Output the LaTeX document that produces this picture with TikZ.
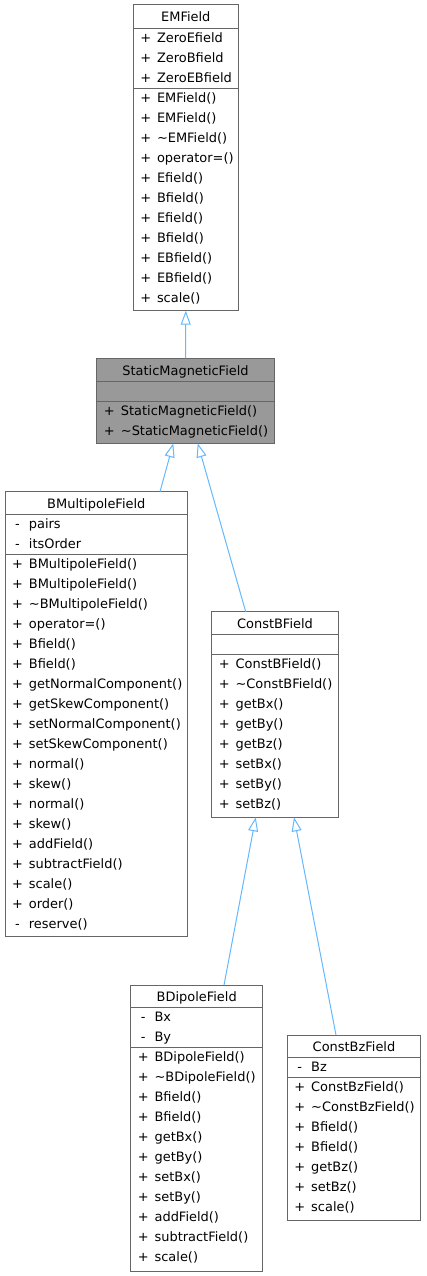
\documentclass[tikz,border=0pt]{standalone}
\usepackage{fontspec}
\setmainfont{DejaVu Sans}
\usetikzlibrary{arrows.meta,calc}
\definecolor{edgeblue}{HTML}{63B8FF}
\definecolor{boxgray}{HTML}{666666}
\definecolor{basefill}{HTML}{999999}
\begin{document}
\begin{tikzpicture}[x=1pt,y=-1pt,
    every node/.style={font=\fontsize{12.95}{16}\selectfont},
    classbox/.style={draw=boxgray,line width=1pt,fill=white,inner sep=0pt,outer sep=0pt,anchor=north west},
    sepline/.style={draw=boxgray,line width=1pt},
    classname/.style={anchor=base,inner sep=0pt},
    sign/.style={anchor=base,inner sep=0pt},
    member/.style={anchor=base west,inner sep=0pt},
    derived/.style={draw=edgeblue,line width=1pt,-{Triangle[open,length=14pt,width=10pt]}}]
  \useasboundingbox (0,0) rectangle (426,1276);
  % EMField
  \node (emfield) [classbox,minimum width=105,minimum height=305.7] at (133.3,5) {};
  \draw[sepline] (133.3,28.3) -- (238.3,28.3) (133.3,88.3) -- (238.3,88.3);
  \node[classname] at (185.8,21.7) {EMField};
  \foreach \s/\m [count=\i from 0] in {+/ZeroEfield,+/ZeroBfield,+/ZeroEBfield}
    {\node[sign] at (145.8,42.3+20*\i) {\s}; \node[member] at (156.8,42.3+20*\i) {\m};}
  \foreach \s/\m [count=\i from 0] in {+/EMField(),+/EMField(),+/\textasciitilde EMField(),+/operator=(),
      +/Efield(),+/Bfield(),+/Efield(),+/Bfield(),+/EBfield(),+/EBfield(),+/scale()}
    {\node[sign] at (145.8,102.3+20*\i) {\s}; \node[member] at (156.8,102.3+20*\i) {\m};}
  % StaticMagneticField
  \node (static) [classbox,fill=basefill,minimum width=177.6,minimum height=85] at (96.7,358.3) {};
  \draw[sepline] (96.7,381) -- (274.3,381) (96.7,401) -- (274.3,401);
  \node[classname] at (185.5,375) {StaticMagneticField};
  \foreach \s/\m [count=\i from 0] in {+/StaticMagneticField(),+/\textasciitilde StaticMagneticField()}
    {\node[sign] at (109.2,415+20*\i) {\s}; \node[member] at (120.7,415+20*\i) {\m};}
  % BMultipoleField
  \node (bmultipole) [classbox,minimum width=182.7,minimum height=445] at (5,491.7) {};
  \draw[sepline] (5,514.3) -- (187.7,514.3) (5,554.3) -- (187.7,554.3);
  \node[classname] at (96.3,508.4) {BMultipoleField};
  \foreach \s/\m [count=\i from 0] in {-/pairs,-/itsOrder}
    {\node[sign] at (17.5,528.3+20*\i) {\s}; \node[member] at (28.7,528.3+20*\i) {\m};}
  \foreach \s/\m [count=\i from 0] in {+/BMultipoleField(),+/BMultipoleField(),+/\textasciitilde BMultipoleField(),
      +/operator=(),+/Bfield(),+/Bfield(),+/getNormalComponent(),+/getSkewComponent(),
      +/setNormalComponent(),+/setSkewComponent(),+/normal(),+/skew(),+/normal(),+/skew(),
      +/addField(),+/subtractField(),+/scale(),+/order(),-/reserve()}
    {\node[sign] at (17.5,568.3+20*\i) {\s}; \node[member] at (28.7,568.3+20*\i) {\m};}
  % ConstBField
  \node (constb) [classbox,minimum width=126.6,minimum height=205.6] at (211.7,611.7) {};
  \draw[sepline] (211.7,634.3) -- (338.3,634.3) (211.7,654.3) -- (338.3,654.3);
  \node[classname] at (275,628.4) {ConstBField};
  \foreach \s/\m [count=\i from 0] in {+/ConstBField(),+/\textasciitilde ConstBField(),+/getBx(),+/getBy(),
      +/getBz(),+/setBx(),+/setBy(),+/setBz()}
    {\node[sign] at (224.2,668.3+20*\i) {\s}; \node[member] at (235.4,668.3+20*\i) {\m};}
  % BDipoleField
  \node (bdipole) [classbox,minimum width=132,minimum height=286] at (130.7,985) {};
  \draw[sepline] (130.7,1007.7) -- (262.7,1007.7) (130.7,1047.7) -- (262.7,1047.7);
  \node[classname] at (196.7,1001.7) {BDipoleField};
  \foreach \s/\m [count=\i from 0] in {-/Bx,-/By}
    {\node[sign] at (143.2,1021.7+20*\i) {\s}; \node[member] at (154.4,1021.7+20*\i) {\m};}
  \foreach \s/\m [count=\i from 0] in {+/BDipoleField(),+/\textasciitilde BDipoleField(),+/Bfield(),+/Bfield(),
      +/getBx(),+/getBy(),+/setBx(),+/setBy(),+/addField(),+/subtractField(),+/scale()}
    {\node[sign] at (143.2,1061.7+20*\i) {\s}; \node[member] at (154.4,1061.7+20*\i) {\m};}
  % ConstBzField
  \node (constbz) [classbox,minimum width=133.4,minimum height=185.7] at (287.3,1035) {};
  \draw[sepline] (287.3,1057.7) -- (420.7,1057.7) (287.3,1077.7) -- (420.7,1077.7);
  \node[classname] at (354,1051.7) {ConstBzField};
  \foreach \s/\m [count=\i from 0] in {-/Bz}
    {\node[sign] at (299.8,1071.7+20*\i) {\s}; \node[member] at (311,1071.7+20*\i) {\m};}
  \foreach \s/\m [count=\i from 0] in {+/ConstBzField(),+/\textasciitilde ConstBzField(),+/Bfield(),+/Bfield(),
      +/getBz(),+/setBz(),+/scale()}
    {\node[sign] at (299.8,1091.7+20*\i) {\s}; \node[member] at (311,1091.7+20*\i) {\m};}
  % inheritance
  \begin{scope}[derived]
    \draw (static.north) -- (emfield.south);
    \draw ($(bmultipole.north west)+(155,0)$) -- ($(static.south west)+(76.6,0)$);
    \draw ($(constb.north west)+(34,0)$) -- ($(static.south west)+(101,0)$);
    \draw ($(bdipole.north west)+(93.3,0)$) -- ($(constb.south west)+(44,0)$);
    \draw ($(constbz.north west)+(48.7,0)$) -- ($(constb.south west)+(82.3,0)$);
  \end{scope}
\end{tikzpicture}
\end{document}
